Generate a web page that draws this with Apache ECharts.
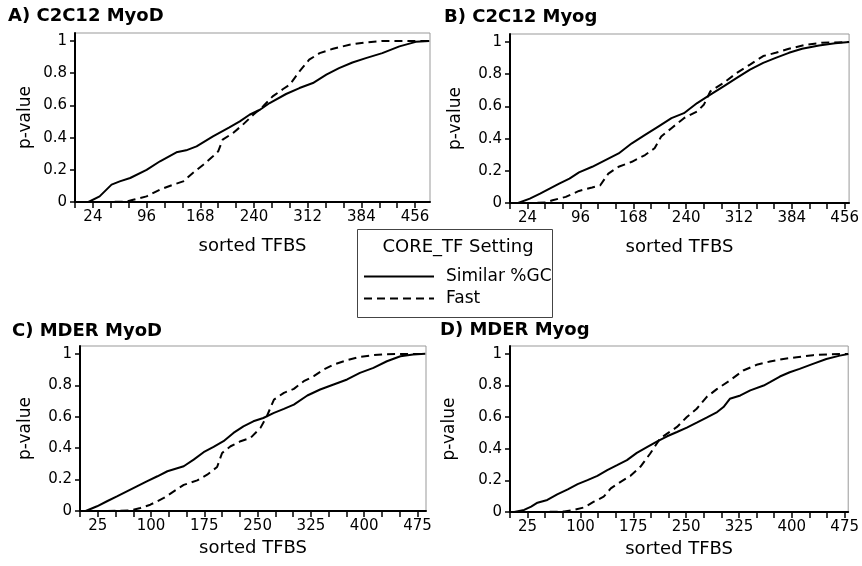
<!DOCTYPE html>
<html>
<head>
<meta charset="utf-8">
<script src="https://cdn.jsdelivr.net/npm/echarts@6/dist/echarts.min.js"></script>
<style>
html,body{margin:0;padding:0;background:#fff;}
#chart{width:862px;height:566px;}
</style>
</head>
<body>
<div id="chart"></div>
<script>
// ---- Data ----
const panelTitles = ['A) C2C12 MyoD', 'B) C2C12 Myog', 'C) MDER MyoD', 'D) MDER Myog'];
const seriesNames = ['Similar %GC', 'Fast'];
const legendTitle = 'CORE_TF Setting';

const xTicksC2C12 = [0,24,48,72,96,120,144,168,192,216,240,264,288,312,336,360,384,408,432,456];
const xLabelsC2C12 = [24, 96, 168, 240, 312, 384, 456];
const xTicksMDER = [0,25,50,75,100,125,150,175,200,225,250,275,300,325,350,375,400,425,450,475];
const xLabelsMDER = [25, 100, 175, 250, 325, 400, 475];
const yLabels = [0, 0.2, 0.4, 0.6, 0.8, 1];

// A) C2C12 MyoD
const aSimilarX = [1,18,33,49,60,74,96,114,136,149,163,185,207,221,234,248,261,283,301,319,337,354,372,390,412,435,457,475];
const aSimilarY = [0,0,0.035,0.108,0.128,0.149,0.2,0.253,0.309,0.321,0.346,0.408,0.464,0.501,0.542,0.573,0.615,0.671,0.708,0.739,0.791,0.832,0.867,0.894,0.925,0.967,0.995,1.0];
const aFastX = [1,47,69,78,96,114,132,145,158,172,185,192,198,212,225,239,252,265,279,288,301,314,328,346,368,390,412,475];
const aFastY = [0,0,0.003,0.014,0.035,0.077,0.108,0.128,0.18,0.232,0.284,0.315,0.387,0.429,0.48,0.542,0.594,0.656,0.702,0.729,0.812,0.884,0.925,0.952,0.977,0.992,1.0,1.0];

// B) C2C12 Myog
const bSimilarX = [2,11,27,41,54,67,81,94,112,130,148,166,184,202,220,237,255,273,291,309,327,345,362,380,398,421,443,462];
const bSimilarY = [0,0,0.027,0.058,0.09,0.121,0.152,0.19,0.225,0.267,0.308,0.371,0.423,0.475,0.527,0.558,0.621,0.673,0.725,0.777,0.829,0.871,0.902,0.933,0.958,0.979,0.992,1.0];
const bFastX = [2,30,49,58,76,94,112,123,134,148,166,184,197,206,220,237,255,264,273,291,309,327,345,362,380,403,425,462];
const bFastY = [0,0,0.004,0.017,0.038,0.075,0.096,0.11,0.183,0.225,0.256,0.298,0.34,0.413,0.465,0.527,0.569,0.61,0.694,0.746,0.808,0.86,0.913,0.933,0.958,0.983,0.996,1.0];

// C) MDER MyoD
const cSimilarX = [2,8,24,38,52,66,80,94,109,123,146,160,174,188,202,216,230,244,258,273,287,301,320,338,357,376,394,413,432,451,469,486];
const cSimilarY = [0,0,0.03,0.062,0.093,0.125,0.157,0.189,0.221,0.253,0.285,0.327,0.374,0.408,0.444,0.497,0.539,0.571,0.592,0.624,0.65,0.677,0.735,0.773,0.805,0.837,0.879,0.911,0.953,0.985,0.996,1.0];
const cFastX = [2,38,71,85,99,118,132,146,165,179,193,200,212,226,240,254,263,273,287,301,315,329,343,357,376,394,413,432,486];
const cFastY = [0,0,0.003,0.019,0.04,0.083,0.125,0.166,0.195,0.231,0.28,0.369,0.412,0.444,0.465,0.529,0.603,0.709,0.752,0.777,0.826,0.858,0.9,0.932,0.96,0.981,0.992,0.998,1.0];

// D) MDER Myog
const dSimilarX = [1,6,20,30,39,53,67,82,96,110,124,138,152,166,180,195,209,223,237,251,265,279,294,303,312,327,341,360,369,383,397,411,430,449,468,480];
const dSimilarY = [0,0,0.013,0.034,0.059,0.076,0.111,0.143,0.176,0.202,0.229,0.265,0.296,0.328,0.374,0.412,0.447,0.479,0.506,0.534,0.565,0.597,0.632,0.664,0.716,0.737,0.769,0.8,0.821,0.857,0.884,0.905,0.937,0.968,0.989,1.0];
const dFastX = [1,44,77,91,105,119,133,143,157,171,185,199,213,223,237,251,265,279,294,312,331,350,369,388,407,430,454,480];
const dFastY = [0,0,0.003,0.013,0.029,0.065,0.097,0.149,0.191,0.229,0.286,0.37,0.464,0.496,0.538,0.601,0.653,0.727,0.779,0.832,0.895,0.931,0.952,0.968,0.979,0.992,0.998,1.0];

const xMax = [476, 462, 487, 480];

// ---- Layout ----
const grids = [
  {left: 75, top: 33, width: 355, height: 169},
  {left: 510, top: 34, width: 342, height: 169},
  {left: 80, top: 346, width: 346, height: 165},
  {left: 510, top: 346, width: 339, height: 166}
];
const titlePos = [[8, 7], [444, 8], [12, 322], [440, 321]];
const xNameGap = [35, 35, 28, 28];
const yNameGap = [41, 46, 46, 52];

const FONT = 'DejaVu Sans';
const zip = (xs, ys) => xs.map((x, i) => [x, ys[i]]);
const panelData = [
  [zip(aSimilarX, aSimilarY), zip(aFastX, aFastY)],
  [zip(bSimilarX, bSimilarY), zip(bFastX, bFastY)],
  [zip(cSimilarX, cSimilarY), zip(cFastX, cFastY)],
  [zip(dSimilarX, dSimilarY), zip(dFastX, dFastY)]
];

const xAxes = [], yAxes = [], series = [], titles = [];
for (let i = 0; i < 4; i++) {
  const isC2C12 = i < 2;
  const ticks = isC2C12 ? xTicksC2C12 : xTicksMDER;
  const labels = isC2C12 ? xLabelsC2C12 : xLabelsMDER;
  const step = isC2C12 ? 24 : 25;
  titles.push({
    text: panelTitles[i], left: titlePos[i][0], top: titlePos[i][1], padding: 0,
    textStyle: {fontFamily: FONT, fontSize: 18, fontWeight: 'bold', color: '#000'}
  });
  xAxes.push({
    gridIndex: i, type: 'value', min: 0, max: xMax[i], interval: step,
    name: 'sorted TFBS', nameLocation: 'middle', nameGap: xNameGap[i],
    nameTextStyle: {fontFamily: FONT, fontSize: 18, color: '#000'},
    axisLine: {show: true, lineStyle: {color: '#000', width: 2}},
    axisTick: {show: true, length: 6, lineStyle: {color: '#000', width: 1.5}, customValues: ticks},
    axisLabel: {
      fontFamily: FONT, fontSize: 15, color: '#000', margin: 8,
      customValues: labels,
      formatter: v => String(Math.round(v))
    },
    splitLine: {show: false}
  });
  yAxes.push({
    gridIndex: i, type: 'value', min: 0, max: 1.05, interval: 0.2,
    name: 'p-value', nameLocation: 'middle', nameGap: yNameGap[i], nameRotate: 90,
    nameTextStyle: {fontFamily: FONT, fontSize: 17, color: '#000'},
    axisLine: {show: true, lineStyle: {color: '#000', width: 2}},
    axisTick: {show: true, length: 5, lineStyle: {color: '#000', width: 1.5}, customValues: yLabels},
    axisLabel: {
      fontFamily: FONT, fontSize: 15, color: '#000', margin: 8,
      customValues: yLabels,
      formatter: v => String(Math.round(v * 10) / 10)
    },
    splitLine: {show: false}
  });
  for (let s = 0; s < 2; s++) {
    series.push({
      name: seriesNames[s], type: 'line', xAxisIndex: i, yAxisIndex: i,
      data: panelData[i][s], symbol: 'none', showSymbol: false, smooth: false,
      animation: false, silent: true,
      lineStyle: {color: '#000', width: 2, type: s === 0 ? 'solid' : [8, 5]},
      itemStyle: {color: '#000'}
    });
  }
}

const chart = echarts.init(document.getElementById('chart'), null, {renderer: 'canvas'});
chart.setOption({
  backgroundColor: '#fff',
  animation: false,
  title: titles,
  grid: grids.map(g => Object.assign({show: true, borderColor: '#999', borderWidth: 1, containLabel: false}, g)),
  xAxis: xAxes,
  yAxis: yAxes,
  legend: {
    data: seriesNames, orient: 'vertical', left: 363, top: 268,
    itemWidth: 70, itemHeight: 18, itemGap: 5, padding: 0,
    selectedMode: false,
    itemStyle: {opacity: 0},
    textStyle: {fontFamily: FONT, fontSize: 17, color: '#000', padding: [0, 0, 0, 7]}
  },
  graphic: [
    {type: 'rect', shape: {x: 357.5, y: 229.5, width: 195, height: 88}, style: {fill: 'none', stroke: '#444', lineWidth: 1}, z: 100},
    {type: 'text', x: 458, y: 247, style: {text: legendTitle, fontFamily: FONT, fontSize: 18, fill: '#000', align: 'center', verticalAlign: 'middle'}, z: 100}
  ],
  series: series
});
</script>
</body>
</html>
